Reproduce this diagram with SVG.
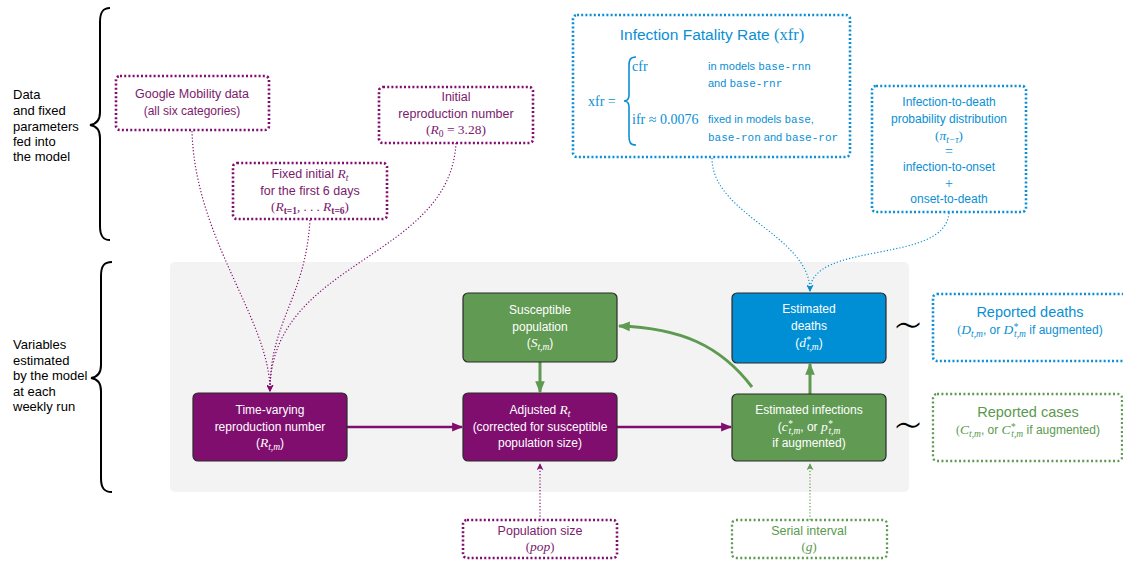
<svg xmlns="http://www.w3.org/2000/svg" width="1123" height="562" viewBox="0 0 1123 562">
<style>
text{font-family:"Liberation Sans",Arial,sans-serif;}
.m{font-family:"Liberation Serif","Times New Roman",serif;font-style:italic;font-size:13.5px;}
.s{font-family:"Liberation Serif","Times New Roman",serif;font-style:italic;font-size:9.5px;}
.r{font-family:"Liberation Serif","Times New Roman",serif;}
.tt{font-family:"Liberation Mono","Courier New",monospace;}
.wt{fill:#ffffff;font-size:12px;text-anchor:middle;}
.pt{fill:#7b1a6e;text-anchor:middle;}
.bt{fill:#0a8fd4;text-anchor:middle;}
.gt{fill:#5a9a4e;text-anchor:middle;}
.lt{fill:#000;font-size:13px;}
.node{stroke:#2b2b2b;stroke-width:1.2;}
.dp{fill:#fff;stroke:#800e6f;stroke-width:2.6;stroke-dasharray:2 2.2;}
.db{fill:#fff;stroke:#0a8fd4;stroke-width:2.6;stroke-dasharray:2 2.2;}
.dg{fill:#fff;stroke:#5e9a51;stroke-width:2.3;stroke-dasharray:2 2.4;}
.cp{fill:none;stroke:#800e6f;stroke-width:1.2;stroke-dasharray:1.2 2;}
.cb{fill:none;stroke:#0a8fd4;stroke-width:1.2;stroke-dasharray:1.2 2;}
.cg{fill:none;stroke:#5e9a51;stroke-width:1.2;stroke-dasharray:1.2 2;}
.brace{fill:none;stroke:#000;stroke-width:2;}
.tilde{font-family:"DejaVu Sans",sans-serif;font-weight:200;font-size:48px;text-anchor:middle;fill:#000;}
</style>
<defs>
<marker id="ap" viewBox="0 0 10 10" refX="9" refY="5" markerWidth="11" markerHeight="11" markerUnits="userSpaceOnUse" orient="auto"><path d="M0,1 L10,5 L0,9 z" fill="#800e6f"/></marker>
<marker id="ag" viewBox="0 0 10 10" refX="9" refY="5" markerWidth="12" markerHeight="12" markerUnits="userSpaceOnUse" orient="auto"><path d="M0,1 L10,5 L0,9 z" fill="#5e9a51"/></marker>
<marker id="sp" viewBox="0 0 10 10" refX="9" refY="5" markerWidth="7" markerHeight="7" markerUnits="userSpaceOnUse" orient="auto"><path d="M0,0 L10,5 L0,10 L3,5 z" fill="#800e6f"/></marker>
<marker id="sb" viewBox="0 0 10 10" refX="9" refY="5" markerWidth="7" markerHeight="7" markerUnits="userSpaceOnUse" orient="auto"><path d="M0,0 L10,5 L0,10 L3,5 z" fill="#0a8fd4"/></marker>
<marker id="sg" viewBox="0 0 10 10" refX="9" refY="5" markerWidth="7" markerHeight="7" markerUnits="userSpaceOnUse" orient="auto"><path d="M0,0 L10,5 L0,10 L3,5 z" fill="#5e9a51"/></marker>
</defs>

<!-- background panel -->
<rect x="170" y="262" width="739" height="230" rx="5" fill="#f3f3f3"/>

<!-- braces and side labels -->
<g id="brace-top">
<path class="brace" d="M110,8 C103,8 100,12 100,22 L100,112 C100,120 97,124 90,125 C97,126 100,130 100,138 L100,226 C100,236 103,240 110,240"/>
<text class="lt" x="13" y="99">Data</text>
<text class="lt" x="13" y="115">and fixed</text>
<text class="lt" x="13" y="131">parameters</text>
<text class="lt" x="13" y="146">fed into</text>
<text class="lt" x="13" y="161">the model</text>
</g>
<g id="brace-bottom">
<path class="brace" d="M112,262 C104,262 101,266 101,276 L101,365 C101,373 98,377 91,378 C98,379 101,383 101,391 L101,478 C101,488 104,492 112,492"/>
<text class="lt" x="13" y="349">Variables</text>
<text class="lt" x="13" y="365">estimated</text>
<text class="lt" x="13" y="380">by the model</text>
<text class="lt" x="13" y="396">at each</text>
<text class="lt" x="13" y="411">weekly run</text>
</g>

<!-- connectors -->
<g id="connectors">
<path class="cp" d="M192,131 C195,240 270,320 270,391" marker-end="url(#sp)"/>
<path class="cp" d="M310,220 C305,300 270,320 270,391" marker-end="url(#sp)"/>
<path class="cp" d="M456,143 C450,260 270,260 270,391" marker-end="url(#sp)"/>
<path class="cb" d="M712,158 C712,215 810,235 810,291" marker-end="url(#sb)"/>
<path class="cb" d="M949,213 C945,265 810,240 810,291" marker-end="url(#sb)"/>
<path class="cp" d="M540,520 L540,464" marker-end="url(#sp)"/>
<path class="cg" d="M810,520 L810,464" marker-end="url(#sg)"/>
<path d="M347,427 L462,427" stroke="#800e6f" stroke-width="2.6" fill="none" marker-end="url(#ap)"/>
<path d="M617,427 L731,427" stroke="#800e6f" stroke-width="2.6" fill="none" marker-end="url(#ap)"/>
<path d="M540,362 L540,392" stroke="#5e9a51" stroke-width="3" fill="none" marker-end="url(#ag)"/>
<path d="M810,394 L810,364" stroke="#5e9a51" stroke-width="3" fill="none" marker-end="url(#ag)"/>
<path d="M752,387 C720,345 680,328 619,326" stroke="#5e9a51" stroke-width="3" fill="none" marker-end="url(#ag)"/>
</g>

<!-- input boxes -->
<g id="google">
<rect class="dp" x="116" y="76" width="153" height="54" rx="4"/>
<text class="pt" x="192" y="98" font-size="12.5">Google Mobility data</text>
<text class="pt" x="192" y="115" font-size="12">(all six categories)</text>
</g>
<g id="fixed-rt">
<rect class="dp" x="233" y="163" width="154" height="56" rx="4"/>
<text class="pt" x="310" y="178" font-size="12.5">Fixed initial <tspan class="m">R</tspan><tspan class="s" dy="3">t</tspan></text>
<text class="pt" x="310" y="195" font-size="12.5">for the first 6 days</text>
<text class="pt" x="310" y="211" font-size="13"><tspan class="r">(</tspan><tspan class="m">R</tspan><tspan class="r" font-size="9.5" dy="3" font-weight="bold">t=1</tspan><tspan class="r" dy="-3">, . . . </tspan><tspan class="m">R</tspan><tspan class="r" font-size="9.5" dy="3" font-weight="bold">t=6</tspan><tspan class="r" dy="-3">)</tspan></text>
</g>
<g id="initial-r0">
<rect class="dp" x="379" y="87" width="154" height="56" rx="4"/>
<text class="pt" x="456" y="101" font-size="12.5">Initial</text>
<text class="pt" x="456" y="118" font-size="12.5">reproduction number</text>
<text class="pt" x="456" y="134" font-size="13.5"><tspan class="r">(</tspan><tspan class="m">R</tspan><tspan class="r" font-size="9.5" dy="3">0</tspan><tspan class="r" dy="-3"> = 3.28)</tspan></text>
</g>
<g id="ifr">
<rect class="db" x="573" y="15" width="277" height="142" rx="4"/>
<text class="bt" x="712" y="40" font-size="15.5">Infection Fatality Rate <tspan class="r" font-size="16.5">(xfr)</tspan></text>
<text class="r" x="588" y="106" font-size="14" fill="#0a8fd4">xfr =</text>
<path d="M636,57 C630,57 629,60 629,66 L629,95 C629,99 627,101 624,101 C627,101 629,103 629,107 L629,136 C629,142 630,145 636,145" fill="none" stroke="#0a8fd4" stroke-width="1.6"/>
<text class="r" x="632" y="71" font-size="14" fill="#0a8fd4">cfr</text>
<text x="708" y="70" font-size="11" fill="#0a8fd4">in models <tspan class="tt">base-rnn</tspan></text>
<text x="708" y="87" font-size="11" fill="#0a8fd4">and <tspan class="tt">base-rnr</tspan></text>
<text class="r" x="632" y="124" font-size="14" fill="#0a8fd4">ifr ≈ 0.0076</text>
<text x="708" y="123" font-size="11" fill="#0a8fd4">fixed in models <tspan class="tt">base</tspan>,</text>
<text x="708" y="141" font-size="11" fill="#0a8fd4"><tspan class="tt">base-ron</tspan> and <tspan class="tt">base-ror</tspan></text>
</g>
<g id="infection-to-death">
<rect class="db" x="872" y="86" width="154" height="126" rx="4"/>
<text class="bt" x="949" y="106" font-size="12">Infection-to-death</text>
<text class="bt" x="949" y="123" font-size="12">probability distribution</text>
<text class="bt" x="949" y="140" font-size="13"><tspan class="r">(</tspan><tspan class="m">π</tspan><tspan class="s" dy="3">t−τ</tspan><tspan class="r" dy="-3">)</tspan></text>
<text class="bt r" x="949" y="156" font-size="14">=</text>
<text class="bt" x="949" y="171" font-size="12">infection-to-onset</text>
<text class="bt r" x="949" y="188" font-size="14">+</text>
<text class="bt" x="949" y="203" font-size="12">onset-to-death</text>
</g>

<!-- model nodes -->
<g id="time-varying">
<rect class="node" x="193" y="393" width="154" height="68" rx="5" fill="#800e6f"/>
<text class="wt" x="270" y="414">Time-varying</text>
<text class="wt" x="270" y="431">reproduction number</text>
<text class="wt" x="270" y="447"><tspan>(</tspan><tspan class="m">R</tspan><tspan class="s" dy="3">t,m</tspan><tspan dy="-3">)</tspan></text>
</g>
<g id="adjusted">
<rect class="node" x="463" y="393" width="154" height="68" rx="5" fill="#800e6f"/>
<text class="wt" x="540" y="414">Adjusted <tspan class="m">R</tspan><tspan class="s" dy="3">t</tspan></text>
<text class="wt" x="540" y="431">(corrected for susceptible</text>
<text class="wt" x="540" y="447">population size)</text>
</g>
<g id="susceptible">
<rect class="node" x="463" y="293" width="154" height="69" rx="5" fill="#619a53"/>
<text class="wt" x="540" y="314">Susceptible</text>
<text class="wt" x="540" y="331">population</text>
<text class="wt" x="540" y="347"><tspan>(</tspan><tspan class="m">S</tspan><tspan class="s" dy="3">t,m</tspan><tspan dy="-3">)</tspan></text>
</g>
<g id="estimated-deaths">
<rect class="node" x="732" y="293" width="154" height="70" rx="5" fill="#008fd5"/>
<text class="wt" x="809" y="313">Estimated</text>
<text class="wt" x="809" y="330">deaths</text>
<text class="wt" x="809" y="347"><tspan>(</tspan><tspan class="m">d</tspan><tspan class="s" dy="-4">*</tspan><tspan class="s" dx="-4" dy="7">t,m</tspan><tspan dy="-3">)</tspan></text>
</g>
<g id="estimated-infections">
<rect class="node" x="732" y="394" width="154" height="67" rx="5" fill="#619a53"/>
<text class="wt" x="809" y="414">Estimated infections</text>
<text class="wt" x="809" y="431"><tspan>(</tspan><tspan class="m">c</tspan><tspan class="s" dy="-4">*</tspan><tspan class="s" dx="-4" dy="7">t,m</tspan><tspan dy="-3">, or </tspan><tspan class="m">p</tspan><tspan class="s" dy="-4">*</tspan><tspan class="s" dx="-4" dy="7">t,m</tspan></text>
<text class="wt" x="809" y="447">if augmented)</text>
</g>

<!-- observation boxes -->
<text class="tilde" x="908" y="342">∼</text>
<text class="tilde" x="908" y="442">∼</text>
<g id="reported-deaths">
<rect class="db" x="933" y="294" width="210" height="67" rx="4"/>
<text class="bt" x="1030" y="317" font-size="14.5">Reported deaths</text>
<text class="bt" x="1030" y="334" font-size="12"><tspan class="r">(</tspan><tspan class="m">D</tspan><tspan class="s" dy="3">t,m</tspan><tspan dy="-3">, or </tspan><tspan class="m">D</tspan><tspan class="s" dy="-4">*</tspan><tspan class="s" dx="-4" dy="7">t,m</tspan><tspan dy="-3"> if augmented)</tspan></text>
</g>
<g id="reported-cases">
<rect class="dg" x="933" y="394" width="189" height="67" rx="4"/>
<text class="gt" x="1028" y="417" font-size="14.5">Reported cases</text>
<text class="gt" x="1028" y="434" font-size="12"><tspan class="r">(</tspan><tspan class="m">C</tspan><tspan class="s" dy="3">t,m</tspan><tspan dy="-3">, or </tspan><tspan class="m">C</tspan><tspan class="s" dy="-4">*</tspan><tspan class="s" dx="-4" dy="7">t,m</tspan><tspan dy="-3"> if augmented)</tspan></text>
</g>
<g id="population-size">
<rect class="dp" x="463" y="520" width="154" height="38" rx="4"/>
<text class="pt" x="540" y="535" font-size="12.5">Population size</text>
<text class="pt" x="540" y="551" font-size="12.5"><tspan class="r">(</tspan><tspan class="m">pop</tspan><tspan class="r">)</tspan></text>
</g>
<g id="serial-interval">
<rect class="dg" x="732" y="520" width="155" height="38" rx="4"/>
<text class="gt" x="809" y="535" font-size="12.5">Serial interval</text>
<text class="gt" x="809" y="551" font-size="12.5"><tspan class="r">(</tspan><tspan class="m">g</tspan><tspan class="r">)</tspan></text>
</g>
</svg>
